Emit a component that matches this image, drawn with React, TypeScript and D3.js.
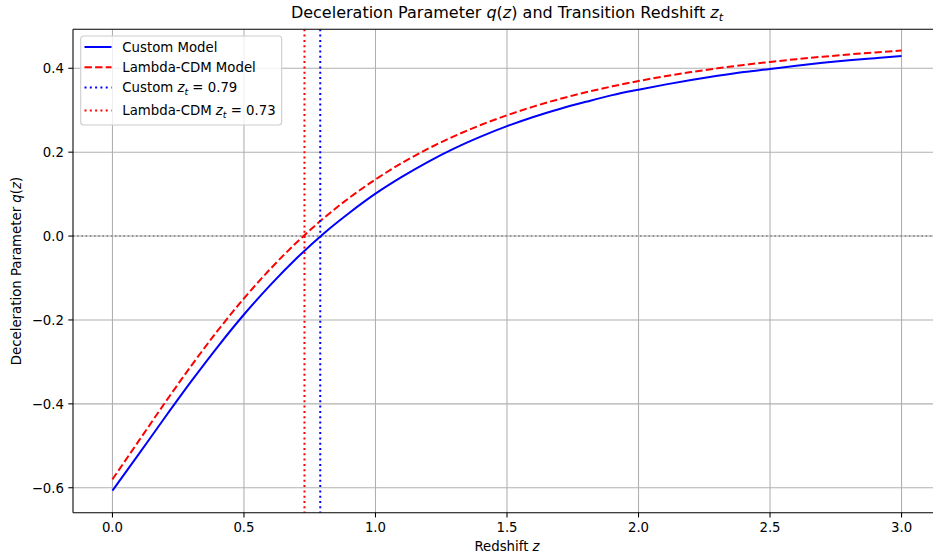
import React from "react";
import * as d3 from "d3";

// Redshift samples and the deceleration parameter for each model
const redshifts = [
  0.0, 0.1, 0.2, 0.3, 0.4, 0.5, 0.6, 0.7, 0.8, 0.9, 1.0, 1.1, 1.2, 1.3, 1.4, 1.5,
  1.6, 1.7, 1.8, 1.9, 2.0, 2.1, 2.2, 2.3, 2.4, 2.5, 2.6, 2.7, 2.8, 2.9, 3.0,
];
const customQ = [
  -0.607, -0.52, -0.432, -0.346, -0.264, -0.187, -0.117, -0.053, 0.0045, 0.055, 0.101,
  0.141, 0.177, 0.209, 0.237, 0.262, 0.284, 0.303, 0.32, 0.336, 0.349, 0.361, 0.372,
  0.382, 0.391, 0.3985, 0.406, 0.413, 0.419, 0.424, 0.429,
];
const lcdmQ = [
  -0.58, -0.4884, -0.3971, -0.3089, -0.2256, -0.1486, -0.0785, -0.0154, 0.041, 0.091,
  0.1351, 0.174, 0.2082, 0.2383, 0.2647, 0.288, 0.3086, 0.3267, 0.3427, 0.3569, 0.3696,
  0.3808, 0.3909, 0.3998, 0.4079, 0.4151, 0.4216, 0.4275, 0.4329, 0.4377, 0.4421,
];
const customZt = 0.79;
const lcdmZt = 0.73;

const xTicks = [0.0, 0.5, 1.0, 1.5, 2.0, 2.5, 3.0];
const yTicks = [-0.6, -0.4, -0.2, 0.0, 0.2, 0.4];

const W = 933;
const H = 559;
const FONT = "'DejaVu Sans', sans-serif";

export default function App() {
  const left = 73;
  const right = 941;
  const top = 29.3;
  const bottom = 512.7;

  const x = d3.scaleLinear().domain([-0.15, 3.15]).range([left, right]);
  const y = d3.scaleLinear().domain([-0.6595, 0.4929]).range([bottom, top]);

  const line = d3
    .line<number>()
    .x((_, i) => x(redshifts[i]))
    .y((d) => y(d))
    .curve(d3.curveMonotoneX);

  const fmtX = d3.format(".1f");
  const fmtY = d3.format(".1f");

  const legendRows = [
    { y: 47, color: "#0000ff", dash: "none", label: <>Custom Model</> },
    { y: 67.3, color: "#ff0000", dash: "7.4,3.2", label: <>Lambda-CDM Model</> },
    {
      y: 87.5,
      color: "#0000ff",
      dash: "2,3.3",
      label: (
        <>
          Custom <tspan fontStyle="italic">z</tspan>
          <tspan fontStyle="italic" fontSize={9.3} dy={3}>t</tspan>
          <tspan dy={-3}> = {customZt.toFixed(2)}</tspan>
        </>
      ),
    },
    {
      y: 110.5,
      color: "#ff0000",
      dash: "2,3.3",
      label: (
        <>
          Lambda-CDM <tspan fontStyle="italic">z</tspan>
          <tspan fontStyle="italic" fontSize={9.3} dy={3}>t</tspan>
          <tspan dy={-3}> = {lcdmZt.toFixed(2)}</tspan>
        </>
      ),
    },
  ];

  return (
    <svg
      width={W}
      height={H}
      style={{ position: "absolute", left: 0, top: 0, background: "#fff" }}
      fontFamily={FONT}
    >
      <defs>
        <clipPath id="plot-area">
          <rect x={left} y={top} width={right - left} height={bottom - top} />
        </clipPath>
      </defs>

      {/* grid */}
      <g stroke="#b0b0b0" strokeWidth={1.07}>
        {xTicks.map((t) => (
          <line key={"gx" + t} x1={x(t)} x2={x(t)} y1={top} y2={bottom} />
        ))}
        {yTicks.map((t) => (
          <line key={"gy" + t} x1={left} x2={right} y1={y(t)} y2={y(t)} />
        ))}
      </g>

      <g clipPath="url(#plot-area)" fill="none">
        {/* zero line */}
        <line
          x1={left}
          x2={right}
          y1={y(0)}
          y2={y(0)}
          stroke="#808080"
          strokeWidth={1.6}
          strokeDasharray="1.6,2.6"
        />
        <path d={line(customQ) || ""} stroke="#0000ff" strokeWidth={2} />
        <path
          d={line(lcdmQ) || ""}
          stroke="#ff0000"
          strokeWidth={2}
          strokeDasharray="7.4,3.2"
        />
        <line
          x1={x(customZt)}
          x2={x(customZt)}
          y1={top}
          y2={bottom}
          stroke="#0000ff"
          strokeWidth={2}
          strokeDasharray="2,3.3"
        />
        <line
          x1={x(lcdmZt)}
          x2={x(lcdmZt)}
          y1={top}
          y2={bottom}
          stroke="#ff0000"
          strokeWidth={2}
          strokeDasharray="2,3.3"
        />
      </g>

      {/* spines */}
      <g stroke="#000" strokeWidth={1.07} fill="none">
        <line x1={left} x2={left} y1={top} y2={bottom} />
        <line x1={left} x2={right} y1={bottom} y2={bottom} />
        <line x1={left} x2={right} y1={top} y2={top} />
        <line x1={right} x2={right} y1={top} y2={bottom} />
      </g>

      {/* ticks */}
      <g fontSize={13.3} fill="#000">
        {xTicks.map((t) => (
          <g key={"xt" + t}>
            <line x1={x(t)} x2={x(t)} y1={bottom} y2={bottom + 4.7} stroke="#000" strokeWidth={1.07} />
            <text x={x(t)} y={bottom + 19} textAnchor="middle">
              {fmtX(t)}
            </text>
          </g>
        ))}
        {yTicks.map((t) => (
          <g key={"yt" + t}>
            <line x1={left - 4.7} x2={left} y1={y(t)} y2={y(t)} stroke="#000" strokeWidth={1.07} />
            <text x={left - 9} y={y(t) + 4.8} textAnchor="end">
              {fmtY(t)}
            </text>
          </g>
        ))}
      </g>

      {/* axis labels */}
      <text x={(left + right) / 2} y={551} textAnchor="middle" fontSize={13.3}>
        Redshift <tspan fontStyle="italic">z</tspan>
      </text>
      <text
        transform={`translate(21, ${(top + bottom) / 2}) rotate(-90)`}
        textAnchor="middle"
        fontSize={13.3}
      >
        Deceleration Parameter <tspan fontStyle="italic">q</tspan>(<tspan fontStyle="italic">z</tspan>)
      </text>

      {/* title */}
      <text x={(left + right) / 2} y={17.5} textAnchor="middle" fontSize={16}>
        Deceleration Parameter <tspan fontStyle="italic">q</tspan>(<tspan fontStyle="italic">z</tspan>) and
        Transition Redshift <tspan fontStyle="italic">z</tspan>
        <tspan fontStyle="italic" fontSize={11.2} dy={3.5}>t</tspan>
      </text>

      {/* legend */}
      <g>
        <rect
          x={80.7}
          y={36}
          width={201}
          height={89}
          rx={3}
          fill="#fff"
          fillOpacity={0.8}
          stroke="#cccccc"
          strokeWidth={1.07}
        />
        {legendRows.map((r, i) => (
          <g key={"lg" + i}>
            <line
              x1={84.5}
              x2={111.5}
              y1={r.y}
              y2={r.y}
              stroke={r.color}
              strokeWidth={2}
              strokeDasharray={r.dash}
            />
            <text x={122.3} y={r.y + 4.8} fontSize={13.3}>
              {r.label}
            </text>
          </g>
        ))}
      </g>
    </svg>
  );
}
